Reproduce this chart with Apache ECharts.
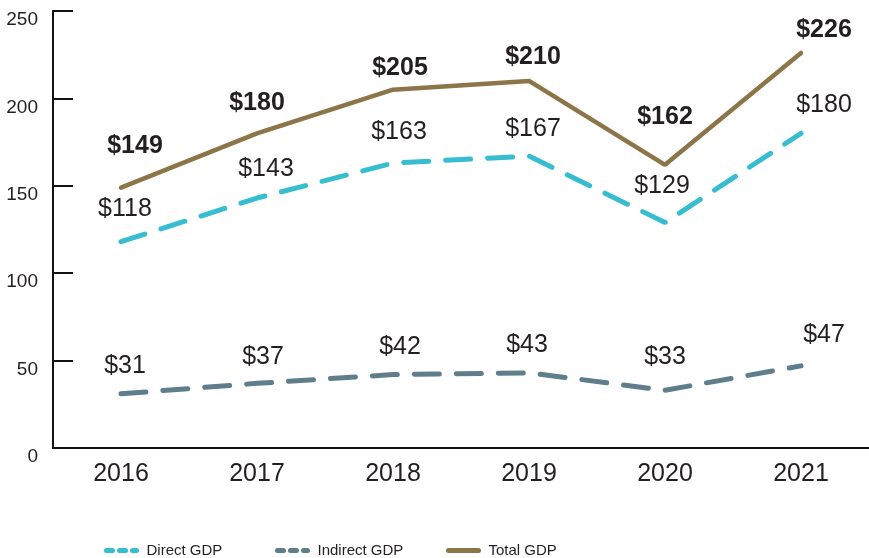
<!DOCTYPE html>
<html><head><meta charset="utf-8">
<script src="https://cdn.jsdelivr.net/npm/echarts@6/dist/echarts.min.js"></script>
<style>html,body{margin:0;padding:0;background:#fff}#c{width:869px;height:558px}</style>
</head><body><div id="c"></div>
<script>
var years = ['2016','2017','2018','2019','2020','2021'];
var directGDP = [118,143,163,167,129,180];
var indirectGDP = [31,37,42,43,33,47];
var totalGDP = [149,180,205,210,162,226];
var yTicks = [0,50,100,150,200,250];

var FONT = '"Liberation Sans Narrow","Arial Narrow","Liberation Sans",sans-serif';
var TXT = '#231f20';
// label offsets (styling only)
var totalOff = [[14,-41],[0,-30],[7,-22],[4,-24],[0,-48],[23,-23]];
var directOff = [[4,-33],[9,-29],[6,-31],[4,-27],[-3,-36],[23,-28]];
var indirectOff = [[4,-28],[6,-26],[7,-27],[-2,-28],[0,-33],[23,-31]];

function mk(vals, offs){
  return vals.map(function(v,i){
    return {value:v, label:{offset:offs[i]}};
  });
}
function lbl(bold){
  return {show:true, position:'inside', formatter:function(p){return '$'+p.value;},
    fontFamily:FONT, fontSize:25, fontWeight: bold?'bold':'normal', color:TXT};
}
function leg(name, left, ls){
  return {left:left, top:538, itemWidth:30, itemHeight:8, itemGap:9,
    textStyle:{fontFamily:FONT, fontSize:15, color:TXT, padding:[0,0,3,5]},
    data:[{name:name, lineStyle:ls, itemStyle:{opacity:0}}]};
}
var chart = echarts.init(document.getElementById('c'));
chart.setOption({
  animation:false,
  grid:{left:53, right:-4, top:11, bottom:110},
  legend:[
    leg('Direct GDP', 99, {type:[6,7], width:5, cap:'round'}),
    leg('Indirect GDP', 270, {type:[6,7], width:5, cap:'round'}),
    leg('Total GDP', 441, {width:5, cap:'round'})
  ],
  xAxis:{
    type:'category', data:years, boundaryGap:true,
    axisLine:{lineStyle:{color:'#111', width:2}},
    axisTick:{inside:true, length:8, lineStyle:{color:'#111', width:1.5}},
    axisLabel:{fontFamily:FONT, fontSize:25, color:TXT, margin:14}
  },
  yAxis:{
    type:'value', min:0, max:250, interval:50,
    splitLine:{show:false},
    axisLine:{show:true, lineStyle:{color:'#111', width:2}},
    axisTick:{show:true, inside:true, length:20, lineStyle:{color:'#111', width:2}},
    axisLabel:{fontFamily:FONT, fontSize:19, color:TXT, margin:15, verticalAlign:'top', lineHeight:18,
      formatter:function(v){return yTicks.indexOf(v)>=0? String(v):'';}}
  },
  series:[
    {name:'Direct GDP', type:'line', data:mk(directGDP,directOff), symbol:'circle', symbolSize:0.1,
      itemStyle:{color:'#36bdd0'},
      lineStyle:{color:'#36bdd0', width:5, type:[25,17], cap:'round'}, label:lbl(false), z:3},
    {name:'Indirect GDP', type:'line', data:mk(indirectGDP,indirectOff), symbol:'circle', symbolSize:0.1,
      itemStyle:{color:'#607d8c'},
      lineStyle:{color:'#607d8c', width:5, type:[25,17], cap:'round'}, label:lbl(false), z:3},
    {name:'Total GDP', type:'line', data:mk(totalGDP,totalOff), symbol:'circle', symbolSize:0.1,
      itemStyle:{color:'#8c7548'},
      lineStyle:{color:'#8c7548', width:4.5, cap:'round'}, label:lbl(true), z:4}
  ]
});
</script></body></html>
